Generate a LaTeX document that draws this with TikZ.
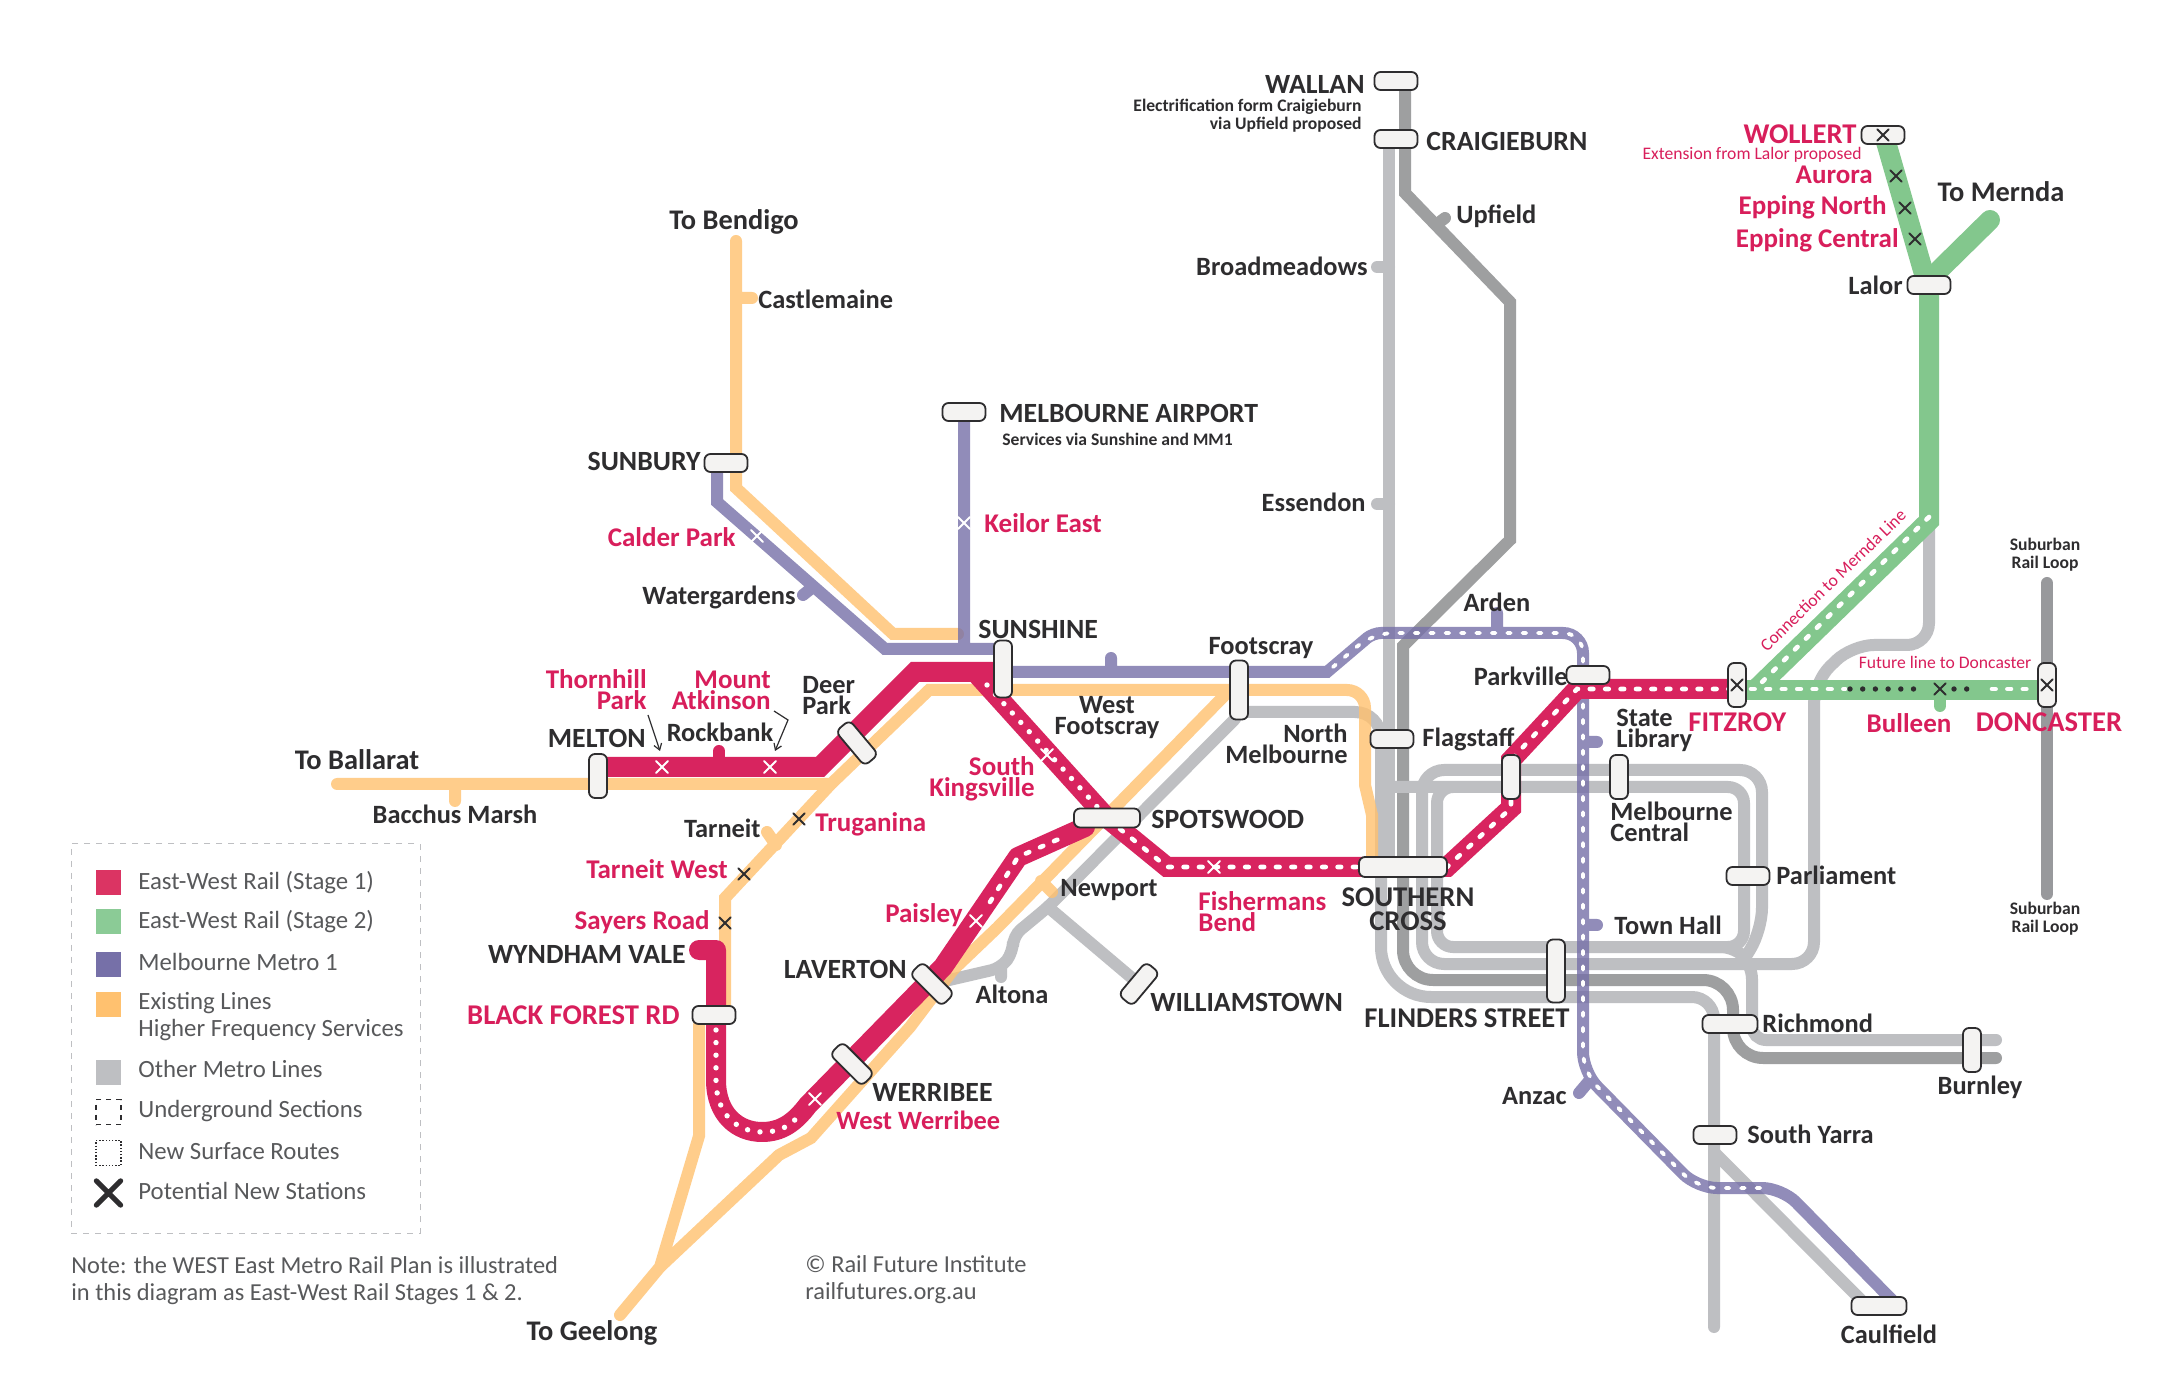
\documentclass[tikz,border=0pt]{standalone}
\usepackage{fontspec}
\setmainfont{Carlito}
\usetikzlibrary{arrows.meta,backgrounds,shapes.misc}

\begin{document}
\begin{tikzpicture}[x=0.5pt, y=-0.5pt,
  rail/.style={line cap=round, line join=miter},
  railGrey/.style={rail, draw=zGrey, line width=6pt},
  railDark/.style={rail, draw=zDark, line width=6pt},
  railOrg/.style={rail, draw=zOrg, line width=6pt, draw opacity=0.8},
  railPur/.style={rail, draw=zPur, line width=6pt, draw opacity=0.8},
  railRed/.style={rail, draw=zRed, line width=10pt},
  railGrn/.style={rail, draw=zGrn, line width=10pt},
  dashW/.style={draw=white, line width=2.3pt, line cap=round, dash pattern=on 1.8pt off 5.9pt},
  dashP/.style={dashW, line width=1.9pt},
  dotW/.style={draw=white, line width=2.7pt, line cap=round, dash pattern=on 0pt off 6.3pt},
  dotK/.style={draw=zInk, line width=2.7pt, line cap=round, dash pattern=on 0pt off 6.35pt},
  stn/.style={draw=zInk, fill=zStn, line width=0.9pt, rounded corners=3pt, inner sep=0pt},
  stnH/.style={stn, minimum width=21.5pt, minimum height=9pt},
  stnV/.style={stn, minimum width=9pt, minimum height=22pt},
  xBlack/.style={cross out, draw=zInk, line width=1pt, line cap=round, minimum size=4.6pt, inner sep=0pt},
  xWhite/.style={cross out, draw=white, line width=1pt, line cap=round, minimum size=5pt, inner sep=0pt},
  xRed/.style={xWhite, fill=zRed},
  lbl/.style={font=\bfseries\fontsize{13.2}{10.5}\selectfont, text=zInk, inner sep=0pt},
  lblN/.style={lbl, font=\bfseries\fontsize{13.5}{10.5}\selectfont, text=zRedT},
  lblTo/.style={lbl, font=\bfseries\fontsize{14.2}{11}\selectfont},
  lblCap/.style={lbl, font=\bfseries\fontsize{13.9}{12}\selectfont},
  lblCapL/.style={lbl, font=\bfseries\fontsize{14.3}{12}\selectfont},
  lblCapN/.style={lblCapL, text=zRedT},
  tiny/.style={lbl, font=\bfseries\fontsize{8.8}{9}\selectfont},
  tinyN/.style={lbl, font=\fontsize{8.8}{9}\selectfont, text=zRedT},
  leg/.style={font=\fontsize{12.4}{13.5}\selectfont, text=zLeg, inner sep=0pt, anchor=west, align=left},
  legNote/.style={leg, font=\fontsize{12.2}{13.5}\selectfont},
  swatch/.style={minimum width=12.5pt, minimum height=12.5pt, inner sep=0pt},
]
\definecolor{zGrey}{HTML}{BEBFC2}\definecolor{zDark}{HTML}{9E9FA0}\definecolor{zLoop}{HTML}{98999C}
\definecolor{zOrg}{HTML}{FFC16F}\definecolor{zPur}{HTML}{7670A8}
\definecolor{zRed}{HTML}{D8245F}\definecolor{zRedT}{HTML}{D81E5B}\definecolor{zRedL}{HTML}{DB3463}
\definecolor{zGrn}{HTML}{83C78D}\definecolor{zGrnL}{HTML}{8BCB96}
\definecolor{zInk}{HTML}{2E2D2F}\definecolor{zLeg}{HTML}{58595B}\definecolor{zStn}{HTML}{F4F3F2}
\useasboundingbox (0,0) rectangle (2164,1384);
% ---- stations ----
\node[stnH] (wallan) at (1396,81) {};
\node[stnH] (craigieburn) at (1396,139) {};
\node[stnH] (wollert) at (1883,135) {};
\node[stnH] (lalor) at (1929,285) {};
\node[stnH] (airport) at (964,412) {};
\node[stnH] (sunbury) at (726,463) {};
\node[stn, minimum width=9pt, minimum height=28.5pt] (sunshine) at (1003,669) {};
\node[stn, minimum width=9pt, minimum height=29.5pt] (footscray) at (1239,690) {};
\node[stnV] (melton) at (598,776) {};
\node[stnH, minimum width=22.5pt, rotate=-50] (deerpark) at (857,743) {};
\node[stnH] (parkville) at (1588,675) {};
\node[stnV] (fitzroy) at (1737,685) {};
\node[stnV] (doncaster) at (2047,685) {};
\node[stnH] (flagstaff) at (1392,739) {};
\node[stnV] (citylink) at (1511,777) {};
\node[stnV] (melbcentral) at (1619,777) {};
\node[stn, minimum width=33pt, minimum height=9.5pt] (spotswood) at (1107,818) {};
\node[stn, minimum width=44pt, minimum height=10pt] (southerncross) at (1403,867) {};
\node[stnH] (parliament) at (1748,876) {};
\node[stn, minimum width=9pt, minimum height=31.5pt] (flinders) at (1556,971) {};
\node[stn, minimum width=27.5pt, minimum height=9pt] (richmond) at (1730,1024) {};
\node[stnV] (burnley) at (1972,1050) {};
\node[stnH] (southyarra) at (1715,1135) {};
\node[stn, minimum width=27.5pt, minimum height=9pt] (caulfield) at (1879,1306) {};
\node[stnH] (blackforest) at (714,1015) {};
\node[stnH, minimum width=22.5pt, rotate=-45] (laverton) at (932,984) {};
\node[stnH, minimum width=22.5pt, rotate=-45] (werribee) at (852,1064) {};
\node[stnH, rotate=50] (williamstown) at (1139,984) {};
% ---- rails ----
\begin{scope}[on background layer]
\fill[white] (0,0) rectangle (2164,1384);
\draw[railDark] (1405,81) -- (1405,193) -- (1510,302) -- (1510,540) -- (1403,646) [rounded corners=15pt] -- (1403,980) -- (1733,980) -- (1733,1058) -- (1996,1058);
\draw[railDark] (1437,224) -- (1445,218);
\draw[railGrey] (1389,139) -- (1389,867) (1377,267) -- (1389,267) (1377,504) -- (1389,504);
\draw[railGrey, rounded corners=8pt] (1389,787) -- (1744,787) -- (1744,947) -- (1437,947) -- (1437,787) -- (1470,787);
\draw[railGrey, rounded corners=11pt] (1929,520) -- (1929,645) -- (1852,645) -- (1814,682) -- (1814,964) -- (1422,964) -- (1422,770) -- (1762,770) -- (1762,930) -- (1745,958);
\draw[railGrey, rounded corners=7pt] (1700,947) -- (1735,947) -- (1752,965) -- (1752,1040) -- (1996,1040);
\draw[railGrey] (1240,712) [rounded corners=13pt] -- (1381,712) [rounded corners=25pt] -- (1381,997) [rounded corners=11pt] -- (1714,997) -- (1714,1327);
\draw[railGrey] (1715,1153) -- (1861,1300);
\draw[railGrey, rounded corners=5pt] (1235,719) -- (1048,907) -- (1013,936) -- (1013,952) -- (1001,968) -- (932,984) (1001,968) -- (1001,977);
\draw[railGrey] (1048,907) -- (williamstown);
\draw[railOrg] (337,784) -- (831,784) -- (929,690) [rounded corners=9pt] -- (1365,690) [sharp corners] -- (1365,785) -- (1372,815) -- (1372,867)
  (831,784) -- (725,898) -- (725,1015) (699,1025) -- (699,1136) -- (660,1267) -- (620,1315)
  (660,1267) -- (779,1155) -- (811,1138) -- (910,1027) -- (953,970) -- (997,928) -- (1224,696)
  (736,241) -- (736,488) -- (893,634) -- (958,634)
  (455,784) -- (455,801) (736,298) -- (752,298) (767,832) -- (776,845) (1041,881) -- (1052,892);
\draw[railPur] (717,473) -- (717,502) -- (885,649) -- (1003,649) (964,412) -- (964,649)
  (1003,672) -- (1327,672) [rounded corners=4pt] -- (1373,633) [rounded corners=10pt] -- (1583,633) -- (1583,1072) -- (1697,1188) -- (1782,1188) -- (1892,1300)
  (1111,667) -- (1111,658) (1497,628) -- (1497,613) (803,595) -- (813,587)
  (1589,742) -- (1597,742) (1589,925) -- (1597,925) (1579,1093) -- (1590,1080);
\draw[dashP, rounded corners=10pt] (1333,667) -- (1373,633) -- (1583,633) -- (1583,1072) -- (1697,1188) -- (1764,1188);
\draw[railGrn] (1884,135) -- (1924,274) -- (1929,285) -- (1929,521) -- (1755,690);
\draw[railGrn] (1990,220) -- (1929,280);
\draw[railGrn] (1737,690) -- (2047,690);
\draw[railGrn, line width=6pt] (1940,690) -- (1940,706);
\draw[railRed] (598,767) -- (820,767) -- (915,672) -- (1003,672);
\draw[railRed, line width=6pt] (719,767) -- (719,751);
\draw[railRed] (975,672) -- (1107,818) -- (1167,867) -- (1447,867) -- (1511,808) -- (1511,760) -- (1577,689) -- (1737,689);
\draw[railRed, line join=round] (699,950) -- (716,950) -- (716,1080) .. controls (716,1115) and (738,1132) .. (762,1132) .. controls (782,1132) and (795,1122) .. (808,1105) -- (943,967) -- (1018,857) -- (1085,827);
\draw[dotW] (987,685) -- (1100,810);
\draw[dashW] (1120,829) -- (1167,867) -- (1447,867) -- (1511,808) -- (1511,760) -- (1577,689) -- (1737,689);
\draw[dotW] (716,1030) -- (716,1080) .. controls (716,1115) and (738,1132) .. (762,1132) .. controls (782,1132) and (790,1125) .. (800,1115);
\draw[dashW] (990,902) -- (1018,857) -- (1068,835);
\draw[dashW] (1929,517) -- (1762,682);
\draw[dashW] (1751,689) -- (1845,689);
\draw[dotK] (1850,689) -- (1925,689);
\draw[dotK] (1954,689) -- (1979,689);
\draw[dashW] (1992,689) -- (2032,689);
\draw[rail, draw=zLoop, line width=6pt] (2047,583) -- (2047,894);
\end{scope}
% ---- potential stations ----
\node[xBlack] (xWollert) at (wollert) {};
\node[xBlack] (xAurora) at (1896,176) {};
\node[xBlack] (xEppingN) at (1905,208) {};
\node[xBlack] (xEppingC) at (1915,239) {};
\node[xBlack] (xFitzroy) at (fitzroy) {};
\node[xBlack] (xDoncaster) at (doncaster) {};
\node[xBlack, fill=zGrn] (xBulleen) at (1940,689) {};
\node[xBlack] (xTruganina) at (799,819) {};
\node[xBlack] (xTarneitW) at (744,874) {};
\node[xBlack] (xSayers) at (725,923) {};
\node[xWhite] (xCalder) at (757,536) {};
\node[xWhite] (xKeilor) at (964,523) {};
\node[xWhite] (xThornhill) at (662,767) {};
\node[xWhite] (xMtAtkinson) at (770,767) {};
\node[xRed] (xKingsville) at (1047,755) {};
\node[xRed] (xFishermans) at (1214,867) {};
\node[xRed] (xWerribeeW) at (815,1099) {};
\node[xRed] (xPaisley) at (976,921) {};
% ---- labels ----
\node[lblCap, anchor=east] (lWallan) at (1365,84) {WALLAN};
\node[tiny, anchor=east, align=right] (lWallanNote) at (1362,116) {Electrification form Craigieburn\\via Upfield proposed};
\node[lblCap, anchor=west] (lCraigieburn) at (1426,141) {CRAIGIEBURN};
\node[lbl, anchor=west] (lUpfield) at (1456,216) {Upfield};
\node[lbl, anchor=east] (lBroadmeadows) at (1368,266) {Broadmeadows};
\node[lbl, anchor=east] (lEssendon) at (1366,502) {Essendon};
\node[lblTo] (lBendigo) at (734,222) {To Bendigo};
\node[lbl, anchor=west] (lCastlemaine) at (758,299) {Castlemaine};
\node[lblCap, anchor=west] (lAirport) at (999,413) {MELBOURNE AIRPORT};
\node[tiny, anchor=west] (lAirportNote) at (1002,439) {Services via Sunshine and MM1};
\node[lblCap, anchor=east] (lSunbury) at (701,461) {SUNBURY};
\node[lblN, anchor=west] (lKeilor) at (984,523) {Keilor East};
\node[lblN, anchor=east] (lCalder) at (736,537) {Calder Park};
\node[lbl, anchor=east] (lWatergardens) at (796,597) {Watergardens};
\node[lblCap, anchor=west] (lSunshine) at (978,629) {SUNSHINE};
\node[lbl] (lFootscray) at (1261,648) {Footscray};
\node[lbl] (lArden) at (1497,602) {Arden};
\node[lbl, anchor=east] (lParkville) at (1568,676) {Parkville};
\node[lbl, anchor=west, align=left] (lStateLib) at (1616,730) {State\\Library};
\node[lblCapN, anchor=west] (lFitzroy) at (1688,722) {FITZROY};
\node[lblN] (lBulleen) at (1909,723) {Bulleen};
\node[lblCapN] (lDoncaster) at (2049,722) {DONCASTER};
\node[tinyN] (lFuture) at (1945,662) {Future line to Doncaster};
\node[tinyN, rotate=44] (lConnection) at (1833,580) {Connection to Mernda Line};
\node[tiny, align=center] (lLoopA) at (2045,555) {Suburban\\Rail Loop};
\node[tiny, align=center] (lLoopB) at (2045,919) {Suburban\\Rail Loop};
\node[lblCapN, anchor=east] (lWollert) at (1857,134) {WOLLERT};
\node[tinyN, anchor=east] (lExtension) at (1862,155) {Extension from Lalor proposed};
\node[lblN, anchor=east] (lAurora) at (1873,175) {Aurora};
\node[lblN, anchor=east] (lEppingN) at (1887,207) {Epping North};
\node[lblN, anchor=east] (lEppingC) at (1899,240) {Epping Central};
\node[lblTo] (lMernda) at (2001,192) {To Mernda};
\node[lbl, anchor=east] (lLalor) at (1903,285) {Lalor};
\node[lblTo] (lBallarat) at (357,760) {To Ballarat};
\node[lbl] (lBacchus) at (455,814) {Bacchus Marsh};
\node[lblCap, anchor=east] (lMelton) at (646,738) {MELTON};
\node[lblN, anchor=east, align=right] (lThornhill) at (647,690) {Thornhill\\Park};
\node[lblN, anchor=east, align=right] (lMtAtkinson) at (771,690) {Mount\\Atkinson};
\node[lbl] (lRockbank) at (720,732) {Rockbank};
\node[lbl, anchor=west, align=left] (lDeerPark) at (802,696) {Deer\\Park};
\node[lbl, align=center] (lWestFootscray) at (1107,718) {West\\Footscray};
\node[lbl, anchor=east, align=right] (lNorthMelb) at (1348,744) {North\\Melbourne};
\node[lbl, anchor=west] (lFlagstaff) at (1422,739) {Flagstaff};
\node[lbl, anchor=west, align=left] (lMelbCentral) at (1610,822) {Melbourne\\Central};
\node[lbl, anchor=west] (lParliament) at (1776,875) {Parliament};
\node[lbl, anchor=west] (lTownHall) at (1614,925) {Town Hall};
\node[lbl, anchor=west] (lRichmond) at (1762,1023) {Richmond};
\node[lbl] (lBurnley) at (1980,1087) {Burnley};
\node[lbl, anchor=west] (lSouthYarra) at (1747,1134) {South Yarra};
\node[lbl] (lCaulfield) at (1889,1334) {Caulfield};
\node[lbl, anchor=east] (lAnzac) at (1567,1096) {Anzac};
\node[lblCapL, align=center] (lSouthernCross) at (1408,909) {SOUTHERN\\CROSS};
\node[lblCapL] (lFlinders) at (1467,1018) {FLINDERS STREET};
\node[lblCap, anchor=west] (lSpotswood) at (1151,819) {SPOTSWOOD};
\node[lblN, anchor=west, align=left] (lFishermans) at (1198,912) {Fishermans\\Bend};
\node[lbl, anchor=west] (lNewport) at (1060,890) {Newport};
\node[lbl] (lAltona) at (1012,994) {Altona};
\node[lblCap, anchor=west] (lWilliamstown) at (1150,1002) {WILLIAMSTOWN};
\node[lblCap, anchor=east] (lLaverton) at (907,969) {LAVERTON};
\node[lblN, anchor=east] (lPaisley) at (963,915) {Paisley};
\node[lblCap, anchor=west] (lWerribee) at (872,1092) {WERRIBEE};
\node[lbl, text=zRedT, anchor=west] (lWerribeeW) at (836,1120) {West Werribee};
\node[lblCap, anchor=east] (lWyndham) at (686,954) {WYNDHAM VALE};
\node[lblCapN, anchor=east] (lBlackForest) at (680,1015) {BLACK FOREST RD};
\node[lblN, anchor=east] (lSayers) at (710,922) {Sayers Road};
\node[lblN, anchor=east] (lTarneitW) at (728,869) {Tarneit West};
\node[lbl, anchor=east] (lTarneit) at (761,828) {Tarneit};
\node[lblN, anchor=west] (lTruganina) at (815,824) {Truganina};
\node[lblN, anchor=east, align=right] (lKingsville) at (1035,779) {South\\Kingsville};
\node[lblTo] (lGeelong) at (592,1333) {To Geelong};
% pointers
\coordinate (thornFrom) at (648,715);
\coordinate (thornTo) at (660,751);
\coordinate (atkinFrom) at (774,711);
\coordinate (atkinBend) at (788,720);
\coordinate (atkinTo) at (775,751);
\draw[zInk, line width=0.6pt, -{Straight Barb[length=3pt,width=4pt]}] (thornFrom) -- (thornTo);
\draw[zInk, line width=0.6pt, -{Straight Barb[length=3pt,width=4pt]}] (atkinFrom) -- (atkinBend) -- (atkinTo);
% ---- legend ----
\node[draw=zGrey, line width=0.5pt, dashed, minimum width=174.5pt, minimum height=194.5pt, inner sep=0pt] (legendBox) at (245.5,1038.5) {};
\node[swatch, fill=zRedL] (swRed) at (108.5,883) {};
\node[swatch, fill=zGrnL] (swGrn) at (108.5,922) {};
\node[swatch, fill=zPur] (swPur) at (108.5,964) {};
\node[swatch, fill=zOrg] (swOrg) at (108.5,1004) {};
\node[swatch, fill=zGrey] (swGrey) at (108.5,1072) {};
\node[swatch, draw=zInk, line width=0.7pt, dash pattern=on 2.5pt off 2.5pt] (swDash) at (108.5,1112) {};
\node[swatch, draw=zInk, line width=0.7pt, dash pattern=on 0.7pt off 0.9pt] (swDot) at (108.5,1153) {};
\node[cross out, draw=zInk, line width=2.6pt, line cap=round, minimum size=9.5pt, inner sep=0pt] (swCross) at (108.5,1193) {};
\node[leg] (tRed) at (138,882.5) {East-West Rail (Stage 1)};
\node[leg] (tGrn) at (138,922) {East-West Rail (Stage 2)};
\node[leg] (tPur) at (138,962) {Melbourne Metro 1};
\node[leg] (tOrg) at (138,1016.5) {Existing Lines\\Higher Frequency Services};
\node[leg] (tGrey) at (138,1069) {Other Metro Lines};
\node[leg] (tDash) at (138,1111) {Underground Sections};
\node[leg] (tDot) at (138,1151) {New Surface Routes};
\node[leg] (tCross) at (138,1191) {Potential New Stations};
\node[legNote] (tNote) at (71,1280.5) {Note: the WEST East Metro Rail Plan is illustrated\\in this diagram as East-West Rail Stages 1 \& 2.};
\node[legNote] (tCredit) at (805,1280) {© Rail Future Institute\\railfutures.org.au};
\end{tikzpicture}
\end{document}
